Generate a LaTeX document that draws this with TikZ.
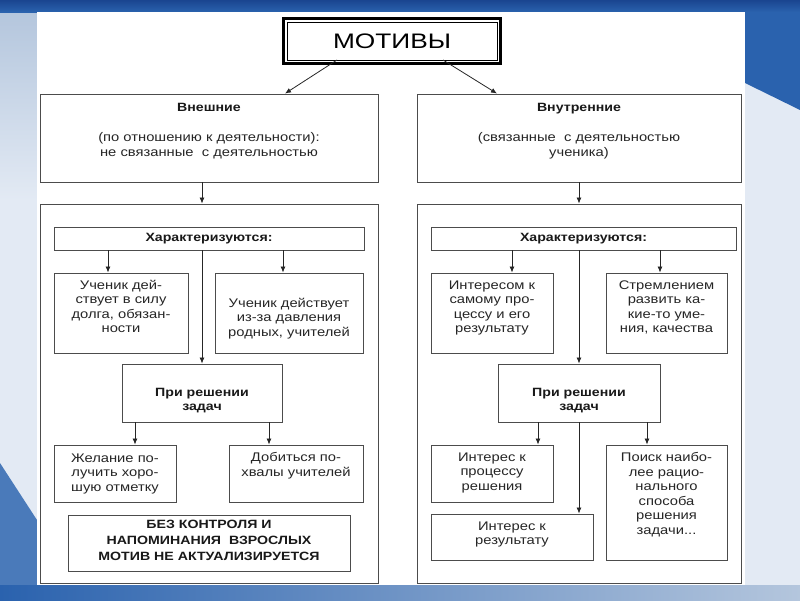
\documentclass[tikz,border=0pt]{standalone}
\usepackage{fontspec}
\setmainfont{Liberation Sans}[FakeStretch=1.18]
\usetikzlibrary{positioning}
\usetikzlibrary{arrows.meta}

\definecolor{slideblue}{HTML}{2A62AE}
\definecolor{darkblue}{HTML}{1A4590}
\definecolor{paleblue}{HTML}{E3EAF4}
\definecolor{midblue}{HTML}{B4C6DD}

\tikzset{
  box/.style={draw=black!70, line width=0.9pt, fill=white, inner sep=0pt},
  txt/.style={inner sep=0pt, align=center, text=black!85,
    font=\fontsize{12.5}{14.5}\selectfont},
  hdr/.style={txt, text=black!90, font=\fontsize{12}{14.5}\selectfont\bfseries},
  arr/.style={line width=0.8pt, black!85, -{Latex[length=6pt,width=5pt]}},
}

\begin{document}
\begin{tikzpicture}[x=1pt,y=-1pt]
	%Background
	\useasboundingbox (0,0) rectangle (800,600);
	\fill[paleblue] (0,0) rectangle (800,600);
	\shade[top color=midblue, bottom color=paleblue] (0,12) rectangle (37,200);
	\fill[slideblue] (745,12) -- (800,12) -- (800,110) -- (745,83) -- cycle;
	\fill[slideblue!85] (0,463) -- (37,520) -- (37,600) -- (0,600) -- cycle;
	\shade[left color=slideblue, right color=midblue] (0,585) rectangle (800,600);
	\shade[top color=darkblue, bottom color=slideblue] (0,0) rectangle (800,12);
	\fill[white] (37,12) rectangle (745,585);

	%Nodes
	\node[box, draw=black, line width=3pt, minimum width=217pt, minimum height=45pt] (title) at (392,41) {};
	\draw[line width=0.8pt] ([shift={(5pt,-5pt)}]title.north west) rectangle ([shift={(-5pt,5pt)}]title.south east);
	\node[inner sep=0pt, font=\fontsize{21}{21}\selectfont] (titleT) at (title) {\scalebox{1.06}[1]{МОТИВЫ}};

	\node[box, minimum width=338pt, minimum height=88pt] (vnesh) at (209,138) {};
	\node[box, minimum width=324pt, minimum height=88pt] (vnutr) at (579,138) {};
	\node[box, minimum width=338pt, minimum height=379pt] (bigL) at (209,393.5) {};
	\node[box, minimum width=324pt, minimum height=379pt] (bigR) at (579,393.5) {};

	\node[box, minimum width=310pt, minimum height=23pt] (charL) at (209,238.5) {};
	\node[box, minimum width=134pt, minimum height=80pt] (uchL1) at (121,313) {};
	\node[box, minimum width=148pt, minimum height=80pt] (uchL2) at (289,313) {};
	\node[box, minimum width=160pt, minimum height=58pt] (priL) at (202,393) {};
	\node[box, minimum width=122pt, minimum height=57pt] (zhel) at (115,473.5) {};
	\node[box, minimum width=134pt, minimum height=57pt] (dob) at (296,473.5) {};
	\node[box, minimum width=282pt, minimum height=56pt] (bez) at (209,543) {};

	\node[box, minimum width=305pt, minimum height=23pt] (charR) at (583.5,238.5) {};
	\node[box, minimum width=122pt, minimum height=80pt] (intR1) at (492,313) {};
	\node[box, minimum width=121pt, minimum height=80pt] (strR) at (666.5,313) {};
	\node[box, minimum width=162pt, minimum height=58pt] (priR) at (579,393) {};
	\node[box, minimum width=122pt, minimum height=57pt] (intProc) at (492,473.5) {};
	\node[box, minimum width=162pt, minimum height=46pt] (intRes) at (512,537) {};
	\node[box, minimum width=121pt, minimum height=115pt] (poisk) at (666.5,502.5) {};

	%Texts
	\node[hdr, below=9pt of vnesh.north] (vneshH) {Внешние};
	\node[txt, below=39pt of vnesh.north] (vneshT) {(по отношению к деятельности):\\не связанные \ с деятельностью};
	\node[hdr, below=9pt of vnutr.north] (vnutrH) {Внутренние};
	\node[txt, below=39pt of vnutr.north] (vnutrT) {(связанные \ с деятельностью\\ученика)};

	\node[hdr] (charLT) at (charL) {Характеризуются:};
	\node[txt, below=7pt of uchL1.north] (uchL1T) {Ученик дей-\\ствует в силу\\долга, обязан-\\ности};
	\node[txt, below=25pt of uchL2.north] (uchL2T) {Ученик действует\\из-за давления\\родных, учителей};
	\node[hdr, below=24pt of priL.north] (priLT) {При решении\\задач};
	\node[txt, below=9pt of zhel.north] (zhelT) {Желание по-\\лучить хоро-\\шую отметку};
	\node[txt, below=8pt of dob.north] (dobT) {Добиться по-\\хвалы учителей};
	\node[hdr, below=5pt of bez.north, font=\fontsize{12}{16}\selectfont\bfseries] (bezT) {БЕЗ КОНТРОЛЯ И\\НАПОМИНАНИЯ \ ВЗРОСЛЫХ\\МОТИВ НЕ АКТУАЛИЗИРУЕТСЯ};

	\node[hdr] (charRT) at (charR) {Характеризуются:};
	\node[txt, below=8pt of intR1.north] (intR1T) {Интересом к\\самому про-\\цессу и его\\результату};
	\node[txt, below=8pt of strR.north] (strRT) {Стремлением\\развить ка-\\кие-то уме-\\ния, качества};
	\node[hdr, below=24pt of priR.north] (priRT) {При решении\\задач};
	\node[txt, below=8pt of intProc.north] (intProcT) {Интерес к\\процессу\\решения};
	\node[txt, below=8pt of intRes.north] (intResT) {Интерес к\\результату};
	\node[txt, below=8pt of poisk.north] (poiskT) {Поиск наибо-\\лее рацио-\\нального\\способа\\решения\\задачи...};

	%Arrow positions
	\coordinate (spL) at (202,0);
	\coordinate (spR) at (579,0);
	\coordinate (aL1) at (108,0);
	\coordinate (aL2) at (283,0);
	\coordinate (aL3) at (135,0);
	\coordinate (aL4) at (269,0);
	\coordinate (aR1) at (512,0);
	\coordinate (aR2) at (660,0);
	\coordinate (aR3) at (538,0);
	\coordinate (aR4) at (647,0);

	%Lines
	\draw[arr] ([xshift=-55pt,yshift=5pt]title.south) -- ([xshift=76pt]vnesh.north);
	\draw[arr] ([xshift=51pt,yshift=5pt]title.south) -- ([xshift=-82pt]vnutr.north);

	\draw[arr] (vnesh.south -| spL) -- (bigL.north -| spL);
	\draw[arr] (charL.south -| aL1) -- (uchL1.north -| aL1);
	\draw[arr] (charL.south -| aL2) -- (uchL2.north -| aL2);
	\draw[arr] (charL.south -| spL) -- (priL.north);
	\draw[arr] (priL.south -| aL3) -- (zhel.north -| aL3);
	\draw[arr] (priL.south -| aL4) -- (dob.north -| aL4);

	\draw[arr] (vnutr.south) -- (bigR.north);
	\draw[arr] (charR.south -| aR1) -- (intR1.north -| aR1);
	\draw[arr] (charR.south -| aR2) -- (strR.north -| aR2);
	\draw[arr] (charR.south -| spR) -- (priR.north);
	\draw[arr] (priR.south -| aR3) -- (intProc.north -| aR3);
	\draw[arr] (priR.south -| spR) -- (intRes.north -| spR);
	\draw[arr] (priR.south -| aR4) -- (poisk.north -| aR4);
\end{tikzpicture}
\end{document}
